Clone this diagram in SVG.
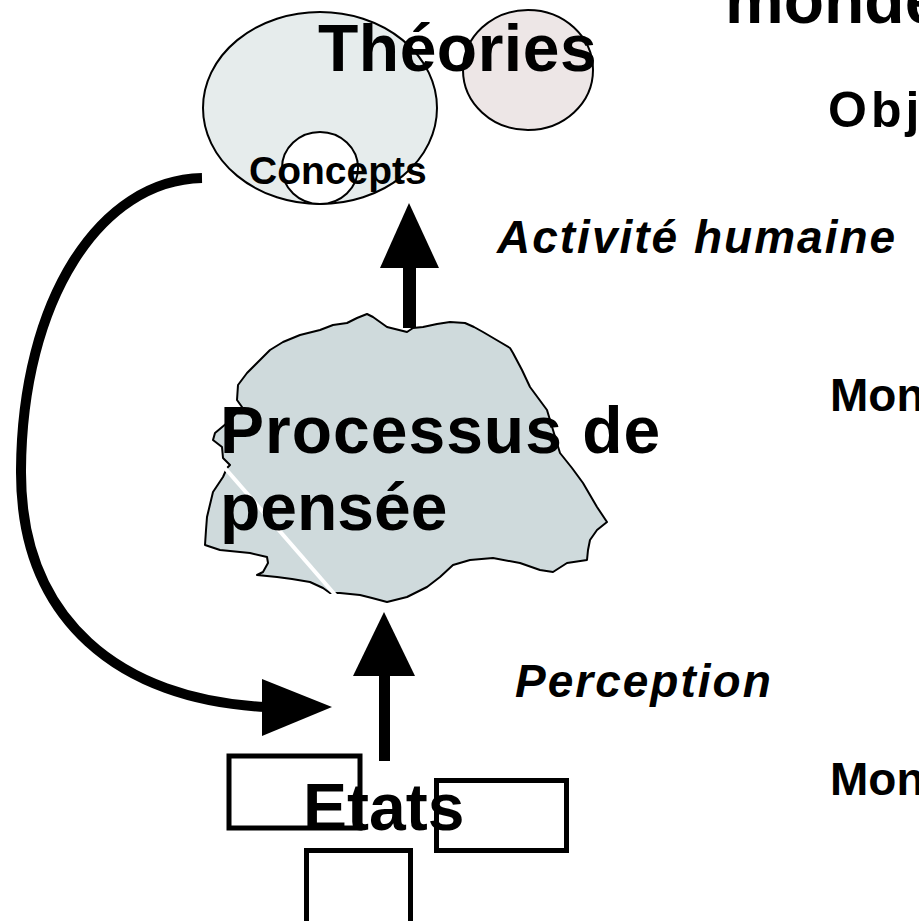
<svg xmlns="http://www.w3.org/2000/svg" width="919" height="921" viewBox="0 0 919 921">
  <style>
    .b { font-family: "Liberation Sans", Arial, Helvetica, sans-serif; font-weight: bold; fill: #000; }
    .bi { font-family: "Liberation Sans", Arial, Helvetica, sans-serif; font-weight: bold; font-style: italic; fill: #000; }
    .outline { stroke: #000; stroke-width: 2; stroke-linejoin: round; }
    .box { fill: #fff; stroke: #000; stroke-width: 5; }
    .shaft { fill: #000; }
  </style>
  <rect width="919" height="921" fill="#fff"/>

  <!-- Theories: large ellipse, neighbouring circle, inner concepts circle -->
  <g id="node-theories">
    <ellipse class="outline" cx="320" cy="108" rx="117" ry="96" fill="#e6ecec"/>
    <ellipse class="outline" cx="528" cy="70" rx="65" ry="60" fill="#ede6e6"/>
  </g>
  <g id="node-concepts">
    <ellipse class="outline" cx="320" cy="168" rx="38" ry="36" fill="#fff"/>
    <text class="b" x="249" y="184" font-size="39">Concepts</text>
  </g>
  <text class="b" x="318" y="71" font-size="66" letter-spacing="0.5">Théories</text>

  <!-- Thought process blob -->
  <g id="node-processus">
    <path class="outline" fill="#cfdadc" d="M407,332 L413,328 L423,327 L437,324 L450,322 L465,323 L474,327 L483,332 L500,342 L510,348 L513,353 L522,370 L530,387 L547,410 L553,430 L560,453 L572,468 L583,483 L597,507 L607,522 L597,530 L590,540 L588,550 L587,560 L567,563 L553,572 L540,570 L520,563 L493,558 L470,560 L453,565 L440,577 L427,587 L407,597 L387,602 L372,598 L360,595 L340,593 L330,593 L323,588 L310,582 L292,579 L277,577 L257,575 L263,572 L268,563 L267,557 L250,553 L220,550 L205,545 L206,530 L207,517 L213,492 L223,477 L227,468 L230,465 L223,458 L222,447 L213,440 L215,433 L227,423 L242,407 L237,400 L238,385 L247,373 L260,360 L270,350 L283,342 L300,335 L320,330 L333,325 L347,323 L357,318 L367,314 L373,317 L387,327 Z"/>
    <line x1="224" y1="467" x2="337" y2="597" stroke="#fff" stroke-width="4"/>
    <text class="b" x="220" y="453" font-size="66" letter-spacing="1">Processus de</text>
    <text class="b" x="220" y="530" font-size="66">pensée</text>
  </g>

  <!-- States: three boxes -->
  <g id="node-etats">
    <rect class="box" x="229" y="756" width="131" height="72"/>
    <rect class="box" x="436.5" y="780.5" width="130" height="70"/>
    <rect class="box" x="306.5" y="850.5" width="104" height="100"/>
    <text class="b" x="303" y="830" font-size="66">Etats</text>
  </g>

  <!-- Connectors -->
  <g id="connectors">
    <!-- activity: process up to theories -->
    <rect class="shaft" x="403" y="266" width="13" height="62"/>
    <polygon points="409,203 439,268 380,268" fill="#000"/>
    <!-- perception: states up to process -->
    <rect class="shaft" x="379" y="674" width="11" height="87"/>
    <polygon points="384,612 415,676 353,676" fill="#000"/>
    <!-- feedback: concepts back down to states -->
    <path d="M202,178 C100,180 22,300 21,470 C20,620 120,700 266,707" fill="none" stroke="#000" stroke-width="10"/>
    <polygon points="262,679 332,707 262,736" fill="#000"/>
  </g>

  <!-- Side labels, running off the right edge -->
  <g id="labels">
    <text class="b" x="725" y="23" font-size="66">monde</text>
    <text class="b" x="828" y="127" font-size="50" letter-spacing="4">Objets</text>
    <text class="bi" x="497" y="253" font-size="46" letter-spacing="2">Activité humaine</text>
    <text class="b" x="830" y="411" font-size="46">Monde</text>
    <text class="bi" x="515" y="697" font-size="46" letter-spacing="2">Perception</text>
    <text class="b" x="830" y="795" font-size="46">Monde</text>
  </g>
</svg>
